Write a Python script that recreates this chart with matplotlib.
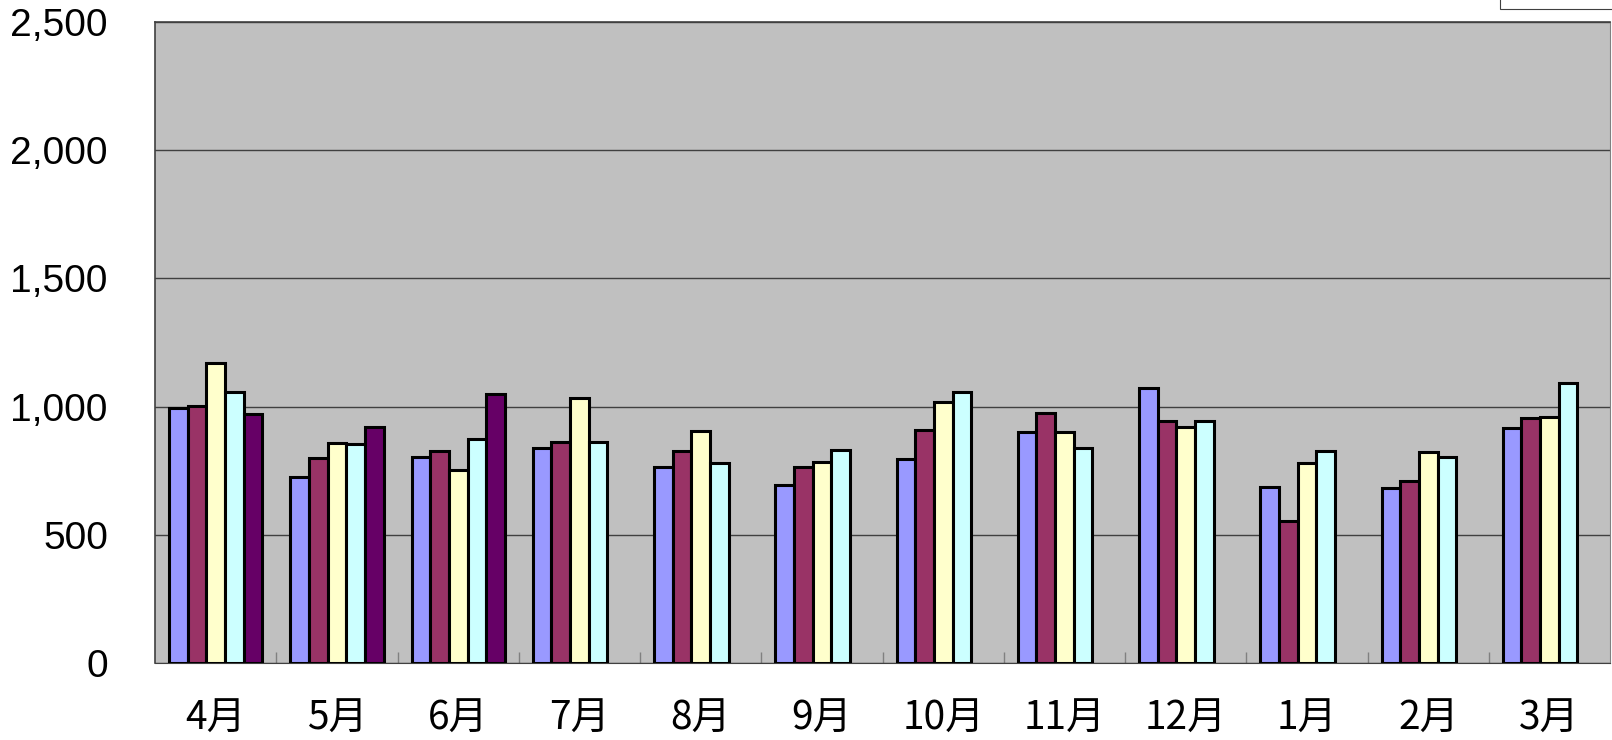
import numpy as np
import matplotlib.pyplot as plt
from matplotlib.patches import Rectangle
from matplotlib.ticker import FuncFormatter

plt.rcParams['font.family'] = ['Liberation Sans', 'DejaVu Sans']

months = ['4月', '5月', '6月', '7月', '8月', '9月', '10月', '11月', '12月', '1月', '2月', '3月']
series_names = ['系列1', '系列2', '系列3', '系列4', '系列5']
s1 = [993, 727, 802, 838, 764, 695, 797, 900, 1071, 686, 681, 917]
s2 = [1001, 800, 827, 862, 825, 763, 910, 974, 944, 553, 711, 957]
s3 = [1169, 858, 753, 1034, 903, 784, 1019, 900, 922, 779, 824, 961]
s4 = [1057, 855, 872, 861, 779, 831, 1056, 840, 945, 828, 805, 1093]
s5 = [971, 920, 1051, np.nan, np.nan, np.nan, np.nan, np.nan, np.nan, np.nan, np.nan, np.nan]
colors = ['#9999FF', '#993366', '#FFFFCC', '#CCFFFF', '#660066']

fig = plt.figure(figsize=(16.12, 7.40), dpi=100)
ax = fig.add_axes([0.0962, 0.104, 0.9026, 0.8663])
ax.set_facecolor('#C0C0C0')

x = np.arange(len(months))
w = 1 / 6.5
for j, vals in enumerate([s1, s2, s3, s4, s5]):
    ax.bar(x + (j - 2) * w, vals, w, color=colors[j], edgecolor='black',
           linewidth=2.2, label=series_names[j], zorder=3)

ax.set_xlim(-0.5, 11.5)
ax.set_ylim(0, 2500)
ax.set_yticks([0, 500, 1000, 1500, 2000, 2500])
ax.yaxis.set_major_formatter(FuncFormatter(lambda v, p: f'{int(v):,}'))
ax.grid(axis='y', color='#404040', linewidth=1.0, zorder=1)

# group boundary ticks + centered month labels
ax.set_xticks(np.arange(0.5, 11.5, 1))
ax.set_xticklabels([])
ax.tick_params(axis='x', which='major', direction='in', length=8, color='#808080', width=1)
ax.set_xticks(x, minor=True)
ax.set_xticklabels(months, minor=True, fontsize=28, family=['Noto Sans CJK JP', 'DejaVu Sans'])
ax.tick_params(axis='x', which='minor', length=0, pad=26)
ax.tick_params(axis='y', length=0, pad=34, labelsize=28)

for s in ['top', 'left']:
    ax.spines[s].set_color('#404040')
    ax.spines[s].set_linewidth(1.2)
ax.spines['bottom'].set_color('#404040')
ax.spines['right'].set_color('#808080')

# cropped legend box at top right
fig.patches.append(Rectangle((1500 / 1612, 731 / 740), 0.08, 0.03, transform=fig.transFigure,
                             facecolor='white', edgecolor='#404040', linewidth=0.8, zorder=5))

plt.savefig('out.png', dpi=100)
